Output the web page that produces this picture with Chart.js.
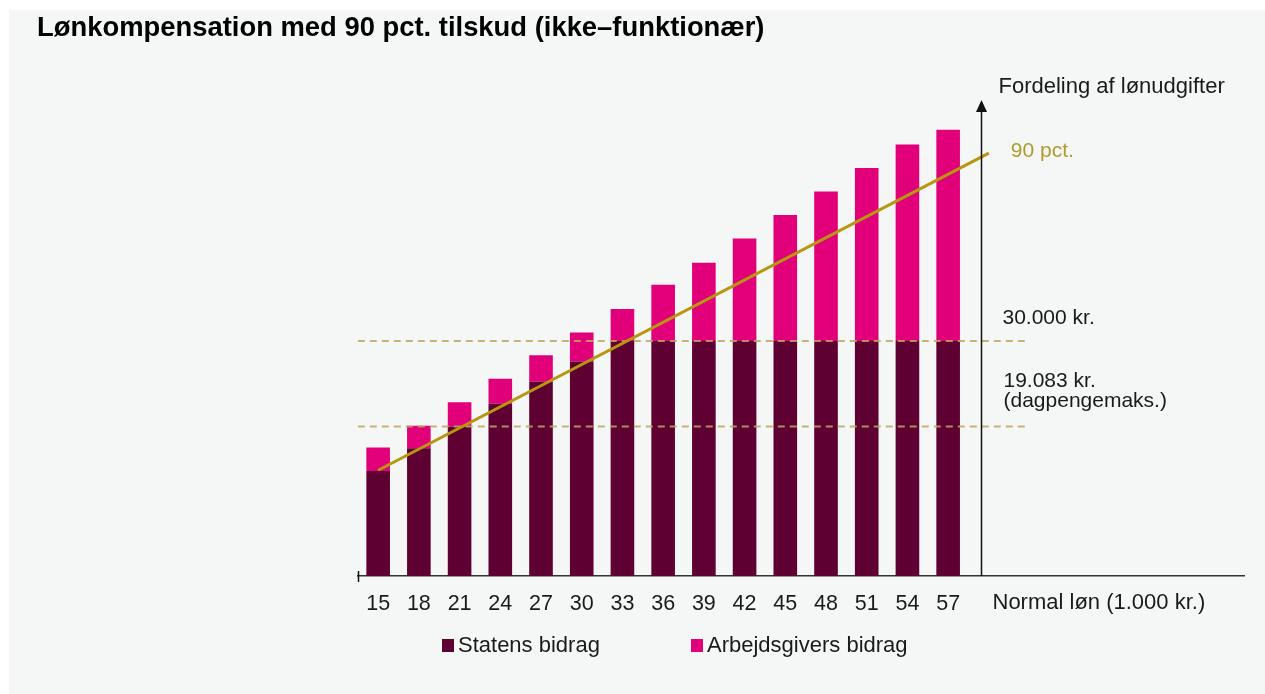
<!DOCTYPE html>
<html lang="da">
<head>
<meta charset="utf-8">
<title>Lønkompensation med 90 pct. tilskud</title>
<script src="https://cdn.jsdelivr.net/npm/chart.js@4.4.1/dist/chart.umd.min.js"></script>
<style>
  html, body { margin: 0; padding: 0; background: #ffffff; }
  #wrap { position: relative; width: 1265px; height: 694px; }
</style>
</head>
<body>
<div id="wrap"><canvas id="chart" width="1265" height="694"></canvas></div>
<script>
// Normal løn (1.000 kr.) og fordeling af lønudgifter (1.000 kr.)
const WAGES = [15, 18, 21, 24, 27, 30, 33, 36, 39, 42, 45, 48, 51, 54, 57];
const STATENS = [13.4, 16.3, 19.1, 22.0, 24.8, 27.4, 30, 30, 30, 30, 30, 30, 30, 30, 30];
const ARBEJDSGIVER = [3.0, 2.9, 3.1, 3.2, 3.4, 3.7, 4.1, 7.2, 10.0, 13.1, 16.1, 19.1, 22.1, 25.1, 27.0];

// 90 pct.-linjen
const LINE_90_X = [15, 60];
const LINE_90_Y = [13.5, 54];

// vandrette niveauer
const LOFT = 30;            // 30.000 kr.
const DAGPENGEMAKS = 19.083; // 19.083 kr.
const REF_X = [13.5, 63];

const X_MIN = 13.5, X_MAX = 78.8, Y_MAX = 60.8;
const AXIS_X = 59.45; // hvor den lodrette pil står

const FONT = "'Liberation Sans', Arial, Helvetica, sans-serif";
const DARK = '#5e0032';
const PINK = '#e2007a';
const GOLD = '#b8960f';
const DASH = 'rgba(190, 166, 96, 0.85)';

Chart.defaults.font.family = FONT;

function pts(xs, ys) { return xs.map((x, i) => ({ x, y: ys[i] })); }

const decor = {
  id: 'decor',
  beforeDraw(chart) {
    const { ctx, width, height } = chart;
    ctx.save();
    ctx.fillStyle = '#ffffff';
    ctx.fillRect(0, 0, width, height);
    ctx.fillStyle = '#f5f7f7';
    ctx.fillRect(9, 10, width - 9, height - 10);
    ctx.restore();
  },
  afterDraw(chart) {
    const { ctx, chartArea: a, scales: { x, y } } = chart;
    const ax = Math.round(x.getPixelForValue(AXIS_X)) + 0.5;
    ctx.save();

    // lodret akse med pil
    ctx.strokeStyle = '#111';
    ctx.fillStyle = '#111';
    ctx.lineWidth = 1.5;
    ctx.beginPath();
    ctx.moveTo(ax, a.bottom);
    ctx.lineTo(ax, a.top + 10);
    ctx.stroke();
    ctx.beginPath();
    ctx.moveTo(ax, a.top);
    ctx.lineTo(ax - 5.5, a.top + 12);
    ctx.lineTo(ax + 5.5, a.top + 12);
    ctx.closePath();
    ctx.fill();

    // lille streg i starten af x-aksen
    ctx.beginPath();
    ctx.moveTo(Math.round(a.left) + 0.5, a.bottom - 5);
    ctx.lineTo(Math.round(a.left) + 0.5, a.bottom + 6);
    ctx.stroke();

    // tekster
    ctx.textBaseline = 'alphabetic';
    ctx.textAlign = 'left';
    ctx.font = '22px ' + FONT;
    ctx.fillStyle = '#1a1a1a';
    ctx.fillText('Fordeling af lønudgifter', ax + 17, a.top - 7);
    ctx.fillText('Normal løn (1.000 kr.)', ax + 11, a.bottom + 33);

    ctx.font = '21px ' + FONT;
    const yLoft = y.getPixelForValue(LOFT);
    const yDag = y.getPixelForValue(DAGPENGEMAKS);
    ctx.fillText('30.000 kr.', ax + 21, yLoft - 17);
    ctx.fillText('19.083 kr.', ax + 22, yDag - 40);
    ctx.fillText('(dagpengemaks.)', ax + 22, yDag - 20);

    ctx.fillStyle = '#b09c2c';
    const ex = x.getPixelForValue(LINE_90_X[LINE_90_X.length - 1]);
    const ey = y.getPixelForValue(LINE_90_Y[LINE_90_Y.length - 1]);
    ctx.fillText('90 pct.', ex + 22, ey + 4);

    // signaturforklaring
    const items = chart.data.datasets.filter(d => d.type === 'bar');
    const legendX = [442, 691];
    const ly = 645;
    ctx.font = '22px ' + FONT;
    ctx.textBaseline = 'middle';
    items.forEach((d, i) => {
      ctx.fillStyle = d.backgroundColor;
      ctx.fillRect(legendX[i], ly - 6, 12, 13);
      ctx.fillStyle = '#1a1a1a';
      ctx.fillText(d.label, legendX[i] + 16, ly + 1);
    });

    ctx.restore();
  }
};

new Chart(document.getElementById('chart'), {
  data: {
    datasets: [
      {
        type: 'bar', label: 'Statens bidrag', stack: 'loen', order: 0,
        data: pts(WAGES, STATENS), backgroundColor: DARK,
        categoryPercentage: 1, barPercentage: 0.58
      },
      {
        type: 'bar', label: 'Arbejdsgivers bidrag', stack: 'loen', order: 0,
        data: pts(WAGES, ARBEJDSGIVER), backgroundColor: PINK,
        categoryPercentage: 1, barPercentage: 0.58
      },
      {
        type: 'line', label: '30.000 kr.', stack: 'loft', order: -1,
        data: pts(REF_X, REF_X.map(() => LOFT)),
        borderColor: DASH, borderWidth: 2, borderDash: [7, 5], pointRadius: 0
      },
      {
        type: 'line', label: '19.083 kr.', stack: 'dag', order: -1,
        data: pts(REF_X, REF_X.map(() => DAGPENGEMAKS)),
        borderColor: DASH, borderWidth: 2, borderDash: [7, 5], pointRadius: 0
      },
      {
        type: 'line', label: '90 pct.', stack: 'pct', order: -2,
        data: pts(LINE_90_X, LINE_90_Y),
        borderColor: GOLD, borderWidth: 3, pointRadius: 0, clip: false
      }
    ]
  },
  options: {
    responsive: false,
    animation: false,
    layout: { padding: { left: 37, right: 21, top: 0, bottom: 78 } },
    plugins: {
      legend: { display: false },
      tooltip: { enabled: false },
      title: {
        display: true,
        text: 'Lønkompensation med 90 pct. tilskud (ikke–funktionær)',
        align: 'start',
        color: '#000',
        font: { size: 27.4, weight: 'bold', family: FONT },
        padding: { top: 12, bottom: 55 }
      }
    },
    scales: {
      x: {
        type: 'linear',
        stacked: true,
        offset: false,
        min: X_MIN,
        max: X_MAX,
        afterBuildTicks: s => { s.ticks = WAGES.map(v => ({ value: v })); },
        afterFit: s => { s.height = 40; },
        grid: { display: false, drawTicks: false, offset: false },
        border: { display: true, color: '#333', width: 1.5 },
        ticks: {
          color: '#1a1a1a',
          font: { size: 21.5 },
          padding: 15,
          maxRotation: 0,
          autoSkip: false
        }
      },
      y: {
        stacked: true,
        min: 0,
        max: Y_MAX,
        afterFit: s => { s.width = 320.8; },
        grid: { display: false, drawTicks: false },
        border: { display: false },
        ticks: { display: false }
      }
    }
  },
  plugins: [decor]
});
</script>
</body>
</html>
